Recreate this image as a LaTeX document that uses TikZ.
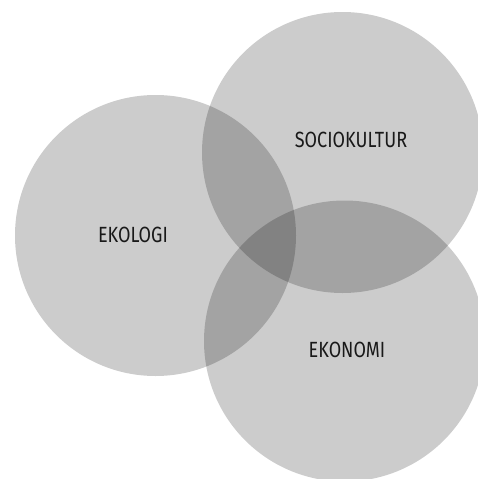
\documentclass[tikz,border=0pt]{standalone}
\usepackage{fontspec}
\setmainfont{Fira Sans}[FakeStretch=0.82]
\begin{document}
\begin{tikzpicture}[x=1pt,y=-1pt,
  setc/.style={circle,fill=black,fill opacity=0.2,draw=none,minimum size=281pt,inner sep=0pt},
  lbl/.style={font=\fontsize{22}{26}\selectfont,text=black!90,inner sep=0pt}]
\useasboundingbox (0,0) rectangle (478,479);
\clip (0,0) rectangle (478,479);
\node[setc] (eko) at (155.5,235.5) {};
\node[setc] (soc) at (342.5,152.5) {};
\node[setc] (ekn) at (344.5,341) {};
\node[lbl] (teko) at (133,235) {EKOLOGI};
\node[lbl] (tsoc) at (351,140) {SOCIOKULTUR};
\node[lbl] (tekn) at (347,350) {EKONOMI};
\end{tikzpicture}
\end{document}
